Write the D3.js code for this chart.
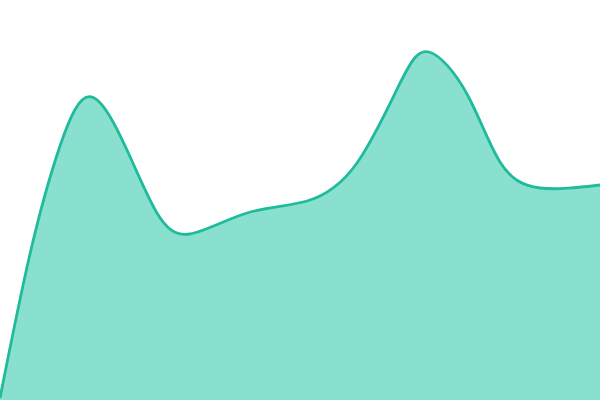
<!DOCTYPE html>
<html>
<head>
<meta charset="utf-8">
<script src="https://cdn.jsdelivr.net/npm/d3@7"></script>
<style>
  body { margin: 0; background: #fff; }
  svg { display: block; }
</style>
</head>
<body>
<script>
var w = 600;
var h = 400;

// x positions and heights (value units: 0 = bottom, 100 = top)
var xs = [0, 30, 60, 91, 127, 157, 190, 247, 307, 357, 400, 429, 467, 500, 540, 600];
var vals = [0.5, 36.5, 63.5, 75.8, 62.5, 46.75, 41.5, 46.75, 49.75, 59.25, 79.2, 87, 76.5, 59.5, 53, 53.75];

var data = xs.map(function(x, i){ return {x: x, v: vals[i]}; });

var xScale = d3.scaleLinear().domain([0, 600]).range([0, w]);
var yScale = d3.scaleLinear().domain([0, 100]).range([h, 0]);

var svg = d3.select("body").append("svg")
  .attr("width", w)
  .attr("height", h);

var curve = d3.curveNatural;

var area = d3.area()
  .x(function(d){ return xScale(d.x); })
  .y0(h + 5)
  .y1(function(d){ return yScale(d.v); })
  .curve(curve);

var line = d3.line()
  .x(function(d){ return xScale(d.x); })
  .y(function(d){ return yScale(d.v); })
  .curve(curve);

svg.append("path")
  .datum(data)
  .attr("d", area)
  .attr("fill", "#8ae0cf");

svg.append("path")
  .datum(data)
  .attr("d", line)
  .attr("fill", "none")
  .attr("stroke", "#1fbb9b")
  .attr("stroke-width", 2.8);
</script>
</body>
</html>
